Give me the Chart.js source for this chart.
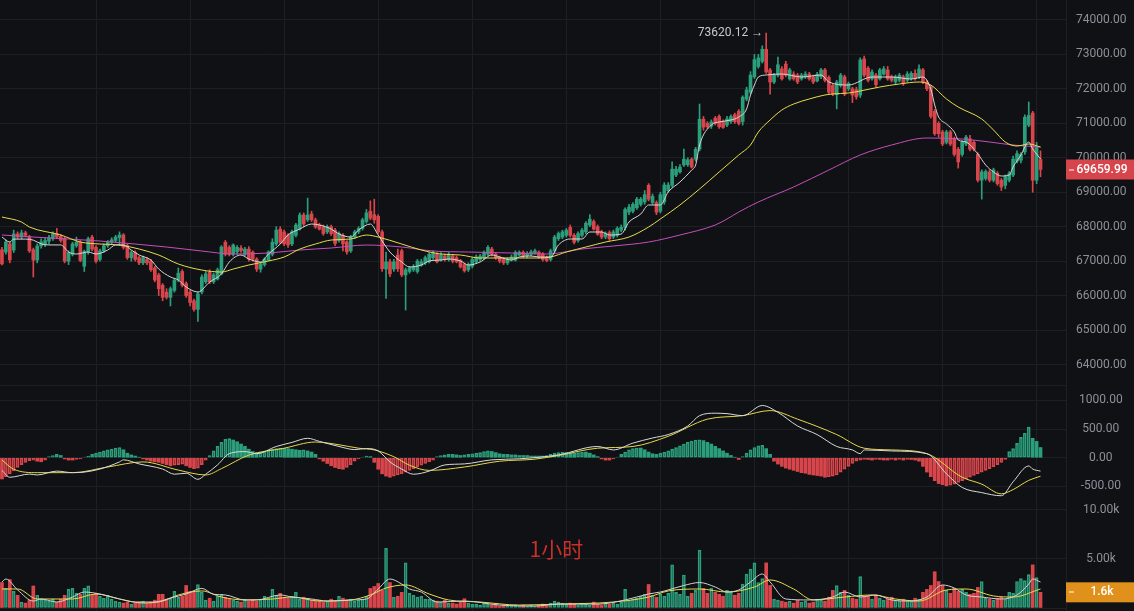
<!DOCTYPE html>
<html>
<head>
<meta charset="utf-8">
<script src="https://cdn.jsdelivr.net/npm/chart.js@4.4.1/dist/chart.umd.min.js"></script>
<style>
  html, body { margin: 0; padding: 0; background: #101114; }
  #wrap { position: relative; width: 1134px; height: 611px; overflow: hidden; background: #101114; }
  canvas { position: absolute; left: 0; }
</style>
</head>
<body>
<div id="wrap">
  <canvas id="priceChart" width="1134" height="385" style="top:0"></canvas>
  <canvas id="macdChart" width="1134" height="115" style="top:385px"></canvas>
  <canvas id="volChart" width="1134" height="111" style="top:500px"></canvas>
</div>
<script>
// hourly candles: [open, high, low, close]
const candles = [
  [67330,67400,66890,66920],[67265,67620,67200,67555],[67500,67560,66950,67035],[67320,67900,67250,67790],[67790,67850,67650,67700],
  [67700,67900,67650,67820],[67820,67870,67700,67750],[67700,67750,67250,67300],[67330,67380,66540,67030],[67030,67500,66950,67440],
  [67440,67650,67380,67560],[67480,67680,67420,67600],[67580,67750,67500,67680],[67650,67850,67600,67800],[67800,67950,67650,67700],
  [67720,67780,67550,67600],[67650,67700,66950,67000],[67000,67300,66900,67250],[67200,67550,67150,67500],[67450,67700,67400,67550],
  [67550,67600,66980,67020],[66850,67320,66700,67280],[67280,67700,67200,67650],[67700,67750,67300,67350],[67400,67450,66950,67000],
  [67050,67350,67000,67300],[67300,67500,67250,67450],[67450,67600,67400,67550],[67550,67680,67500,67620],[67600,67750,67550,67700],
  [67680,67850,67450,67760],[67760,67800,67350,67400],[67450,67500,67050,67100],[67100,67300,67000,67250],[67250,67300,67000,67050],
  [67100,67150,66900,66950],[66950,67150,66900,67100],[67050,67100,66900,66950],[67000,67050,66700,66750],[66800,66850,66400,66450],
  [66600,66650,66000,66200],[66300,66350,65850,65950],[66100,66200,65900,65950],[65950,66250,65700,66200],[66150,66500,66100,66450],
  [66450,66800,66400,66650],[66700,66750,66250,66300],[66350,66400,65950,66000],[66100,66150,65700,65800],[65850,65900,65550,65600],
  [65600,66100,65250,66050],[66104,66600,66050,66540],[66400,66700,66350,66630],[66680,66750,66350,66400],[66400,66650,66350,66600],
  [66480,66800,66450,66750],[66630,67450,66600,67410],[67550,67600,67150,67200],[67400,67450,67150,67200],[67200,67500,67150,67470],
  [67270,67450,67200,67400],[67380,67450,67250,67300],[67200,67400,67150,67350],[67350,67420,67000,67060],[67260,67300,67000,67060],
  [67060,67100,66700,66770],[66770,66950,66680,66920],[66900,67100,66850,67060],[67030,67300,67000,67270],[67200,67650,67150,67550],
  [67500,68000,67450,67900],[67930,68000,67500,67550],[67850,67900,67450,67500],[67760,67800,67400,67470],[67500,67900,67450,67850],
  [67750,68100,67700,68050],[67950,68400,67900,68340],[68340,68400,68000,68080],[68200,68830,68150,68340],[68370,68450,68150,68200],
  [68200,68250,67950,67990],[68050,68100,67900,67930],[68000,68050,67750,67800],[67850,68050,67800,68000],[68000,68050,67750,67800],
  [67900,67950,67450,67510],[67600,67850,67550,67800],[67750,67800,67300,67500],[67560,67600,67200,67270],[67300,67750,67250,67700],
  [67700,67900,67650,67850],[67850,68000,67800,67950],[67950,68250,67900,68200],[68150,68500,68100,68400],[68450,68750,68200,68250],
  [68350,68800,68100,68200],[68300,68350,67800,67850],[67850,67900,66700,66780],[66770,67260,65920,66980],[66980,67050,66550,66630],
  [66770,67050,66700,66980],[67180,67350,66700,66780],[67300,67350,66550,66600],[66600,66800,65580,66750],[66700,66850,66650,66800],
  [66750,66900,66700,66850],[66700,67050,66650,67000],[66880,67050,66850,66980],[66950,67150,66900,67100],[66980,67250,66950,67200],
  [67100,67300,67050,67250],[67200,67250,66950,66980],[67030,67250,67000,67180],[67150,67200,67000,67050],[67050,67250,67000,67200],
  [67150,67200,66950,67000],[67100,67150,66950,66980],[67020,67050,66800,66830],[66900,66950,66680,66720],[66750,66950,66700,66900],
  [66850,67100,66800,67050],[66980,67180,66950,67120],[67050,67200,67000,67150],[67100,67300,67050,67250],[67200,67450,67150,67400],
  [67350,67400,67150,67200],[67200,67250,67050,67100],[67100,67150,66950,67000],[67050,67100,66900,66950],[66950,67100,66900,67060],
  [67050,67180,67000,67120],[67030,67300,67000,67250],[67180,67300,67150,67260],[67260,67300,67100,67150],[67150,67280,67100,67230],
  [67200,67320,67150,67270],[67230,67350,67200,67300],[67260,67300,67080,67120],[67200,67250,67000,67050],[67100,67150,66980,67020],
  [67050,67350,67000,67300],[67300,67750,67250,67700],[67650,67850,67600,67800],[67700,67900,67650,67850],[67750,67950,67700,67900],
  [67980,68050,67700,67750],[67750,67800,67500,67550],[67600,67850,67550,67800],[67750,67950,67700,67900],[67850,68150,67800,68100],
  [68050,68350,68000,68220],[68150,68200,67900,67930],[68000,68050,67750,67780],[67850,67900,67650,67700],[67700,67850,67650,67800],
  [67830,67880,67600,67650],[67700,67900,67650,67850],[67750,68000,67700,67950],[67900,68050,67850,67980],[67980,68550,67900,68500],
  [68420,68650,68350,68570],[68450,68700,68400,68650],[68550,68850,68500,68800],[68650,68850,68600,68800],[68720,69050,68650,68930],
  [69200,69250,68750,68800],[68700,68950,68650,68880],[68700,68750,68350,68420],[68450,69000,68400,68930],[68720,69280,68650,69210],
  [69050,69280,69000,69210],[69200,69880,69150,69670],[69500,69750,69450,69670],[69590,69800,69550,69730],[69790,70250,69750,69960],
  [69800,70000,69750,69940],[69960,70000,69700,69730],[69960,70300,69900,70250],[70250,71560,70200,71120],[71120,71200,70800,70890],
  [71000,71050,70850,70900],[70920,71100,70850,71040],[71150,71200,70950,71000],[71200,71250,70850,70900],[71050,71100,70850,70880],
  [70950,71200,70900,71130],[71050,71250,71000,71200],[71250,71300,71000,71050],[71350,71400,70950,71000],[71050,71800,70950,71760],
  [71700,72050,71650,71970],[71900,72500,71850,72400],[72350,73000,72300,72850],[72650,73000,72600,72900],[72800,73250,72750,73150],
  [73150,73620.12,72450,72490],[72550,72600,71850,72200],[72200,72450,72150,72400],[72400,72920,72350,72700],[72580,72650,72250,72290],
  [72720,72800,72350,72400],[72290,72600,72250,72550],[72430,72500,72250,72290],[72400,72450,72150,72200],[72290,72450,72250,72400],
  [72350,72500,72300,72430],[72430,72480,72250,72290],[72350,72400,72150,72200],[72230,72480,72200,72420],[72350,72600,72300,72550],
  [72550,72600,72200,72250],[72330,72380,71850,71900],[72100,72150,71800,71850],[71830,72250,71420,72200],[72100,72450,72050,72400],
  [72350,72400,71800,71850],[72000,72200,71950,72150],[72000,72050,71600,71820],[71980,72050,71700,71770],[71820,72900,71750,72840],
  [72870,72950,72350,72400],[72600,72650,72200,72250],[72290,72550,72250,72490],[72400,72450,72050,72120],[72290,72600,72250,72550],
  [72430,72650,72400,72580],[72550,72650,72250,72290],[72350,72400,72200,72250],[72200,72400,72150,72350],[72250,72450,72200,72400],
  [72350,72400,72100,72150],[72250,72500,72200,72430],[72300,72500,72250,72450],[72450,72550,72250,72300],[72350,72700,72300,72580],
  [72550,72600,72150,72200],[72200,72250,71950,72000],[72050,72100,71150,71200],[71350,71400,70650,70700],[71000,71050,70600,70700],
  [70750,70800,70350,70400],[70450,70800,70400,70750],[70750,70800,70350,70400],[70550,70600,70050,70100],[70250,70300,69700,69880],
  [70100,70500,70050,70450],[70400,70650,70350,70600],[70550,70650,70200,70250],[70450,70500,70200,70250],[70100,70150,69300,69350],
  [69350,69650,68800,69590],[69400,69650,69350,69600],[69590,69650,69300,69350],[69350,69700,69300,69650],[69550,69600,69200,69250],
  [69350,69400,69050,69150],[69200,69500,69100,69450],[69350,69600,69300,69540],[69500,70050,69450,69960],[69900,70200,69850,70120],
  [69930,70150,69850,70100],[70170,71250,70100,71180],[70950,71620,70900,71230],[71300,71350,69000,69350],[69350,70450,69250,70300],
  [69950,70200,69450,69659.99]
];

// price moving averages, read at sample candles: [index, value]
const ma7Pts = [[0,67700],[2,67555],[3,67640],[6,67640],[8,67610],[10,67500],[12,67470],[15,67470],[17,67265],[19,67207],[22,67265],[24,67207],[27,67323],[29,67470],[31,67470],[33,67323],[35,67178],[38,67033],[40,66770],[43,66540],[45,66452],[47,66250],[50,66104],[53,66394],[56,66627],[58,66975],[61,67178],[63,67062],[66,66975],[68,67207],[71,67497],[73,67759],[76,67933],[79,68078],[81,68049],[84,67933],[86,67788],[89,67700],[91,67904],[94,68078],[96,67759],[99,67265],[102,66975],[104,66830],[107,66888],[109,67004],[112,67033],[114,67062],[117,67004],[119,66888],[122,66975],[125,67178],[127,67120],[130,67033],[132,67120],[135,67149],[137,67120],[140,67120],[142,67470],[145,67643],[148,67643],[150,67846],[153,67846],[155,67758],[158,67787],[160,68136],[163,68368],[165,68630],[168,68630],[170,69007],[173,69297],[176,69645],[177,69790],[178,70371],[181,70952],[183,71039],[186,71097],[188,71184],[190,71416],[191,71823],[192,72113],[193,72345],[195,72403],[199,72432],[204,72345],[209,72403],[211,72200],[216,72113],[222,72345],[227,72345],[232,72287],[235,72345],[237,71997],[238,71532],[239,71184],[241,70981],[243,70749],[244,70516],[246,70458],[249,70110],[251,69791],[253,69588],[255,69471],[257,69500],[258,69733],[260,70081],[262,70458],[263,70255],[264,70110],[265,69965]];
const ma25Pts = [[0,68281],[5,68136],[7,67991],[15,67759],[20,67555],[25,67497],[30,67468],[35,67352],[40,67178],[45,66917],[51,66742],[56,66684],[59,66771],[63,66888],[68,67004],[72,67120],[76,67352],[80,67497],[84,67613],[89,67642],[93,67758],[96,67700],[102,67497],[107,67323],[112,67207],[117,67178],[122,67091],[127,67091],[132,67091],[137,67091],[140,67120],[144,67265],[149,67410],[154,67555],[160,67700],[165,67991],[168,68223],[173,68630],[178,69094],[183,69588],[188,70081],[191,70371],[193,70749],[196,71097],[199,71387],[202,71561],[206,71707],[210,71823],[212,71852],[216,71881],[219,71939],[224,72055],[229,72142],[234,72200],[237,72113],[241,71707],[244,71474],[250,71126],[253,70807],[256,70458],[259,70342],[262,70400],[265,70313]];
const ma99Pts = [[0,67759],[8,67700],[17,67642],[25,67584],[34,67497],[42,67410],[51,67294],[59,67207],[68,67236],[76,67323],[84,67381],[93,67468],[102,67410],[110,67294],[119,67265],[130,67236],[139,67207],[148,67352],[156,67439],[165,67555],[173,67759],[182,68049],[185,68223],[188,68426],[193,68717],[202,69152],[211,69645],[219,70081],[227,70371],[236,70574],[245,70545],[252,70458],[258,70371],[265,70313]];

// MACD
const macdHist = [
  -370,-330,-280,-230,-170,-120,-80,-50,-40,-60,
  -70,-40,20,40,60,40,-20,-40,-40,-30,
  -20,10,30,60,80,100,120,140,150,170,
  180,140,80,50,30,10,-20,-40,-60,-70,
  -80,-100,-120,-140,-130,-120,-110,-140,-170,-190,
  -180,-120,-40,40,120,200,270,320,335,310,
  280,240,200,150,110,90,100,110,130,150,
  160,170,165,160,150,140,130,140,120,100,
  60,-20,-60,-100,-140,-170,-190,-200,-170,-120,
  -60,-20,10,30,20,-80,-200,-280,-320,-340,
  -320,-300,-280,-250,-220,-190,-160,-130,-100,-70,
  -40,20,40,50,60,60,50,40,50,60,
  70,80,90,110,120,110,90,70,60,60,
  50,50,40,40,40,30,30,30,30,40,
  60,80,90,100,90,80,80,90,100,100,
  80,50,20,-20,-40,-40,-20,10,60,100,
  140,160,170,170,140,100,70,60,80,100,
  120,150,180,210,240,270,290,310,315,300,
  270,240,200,160,120,80,40,10,-30,20,
  80,140,180,210,215,160,60,-60,-110,-150,
  -180,-200,-220,-240,-260,-270,-290,-300,-310,-320,
  -340,-330,-320,-300,-250,-200,-150,-100,-60,-40,
  -30,-30,-40,-30,-30,-40,-40,-30,-40,-30,
  -40,-30,-30,-40,-60,-150,-250,-330,-400,-450,
  -470,-490,-480,-460,-430,-400,-370,-340,-310,-280,
  -250,-220,-190,-160,-120,-80,-30,107,160,250,
  357,428,536,340,286,179
];
const difPts = [[0,-220],[2,-340],[7,-285],[9,-300],[14,-233],[18,-260],[21,-250],[25,-197],[30,-72],[31,-36],[35,-107],[41,-197],[44,-287],[47,-270],[50,-376],[52,-287],[55,-125],[58,72],[62,107],[65,72],[70,197],[74,268],[78,340],[81,286],[86,197],[90,143],[93,161],[96,120],[99,-72],[102,-197],[105,-287],[109,-233],[113,-125],[118,-107],[125,-36],[132,-18],[142,50],[152,197],[156,137],[161,256],[166,345],[170,405],[175,555],[178,735],[182,778],[185,770],[189,735],[194,912],[198,793],[203,555],[208,405],[213,197],[217,137],[219,72],[220,137],[227,119],[236,72],[241,-280],[245,-518],[250,-608],[255,-663],[258,-420],[262,-143],[263,-197],[265,-233]];
const deaPts = [[0,-40],[3,-200],[9,-260],[18,-260],[27,-161],[36,-72],[45,-215],[52,-300],[56,-190],[63,47],[72,167],[80,275],[86,227],[91,167],[95,137],[100,18],[104,-130],[109,-220],[118,-161],[127,-60],[136,-24],[142,40],[152,167],[161,197],[170,375],[180,674],[189,735],[196,824],[203,674],[213,405],[220,167],[227,137],[236,72],[245,-340],[250,-460],[255,-630],[258,-555],[262,-394],[265,-322]];

// volume
const volumes = [
  2600,2000,2900,1700,1300,600,500,800,2250,1300,
  900,800,700,900,600,900,1300,1900,2000,1500,
  1400,2000,2250,1300,1500,1200,1000,1300,900,700,
  600,500,600,400,500,600,700,500,600,800,
  1400,1400,900,1000,1700,1100,1200,2300,1700,1600,
  2400,1600,800,1000,700,1200,1400,1100,900,800,
  700,600,900,700,800,700,900,1200,1000,1900,
  1300,1500,1100,1000,1200,1600,900,1100,1000,800,
  700,800,600,700,900,700,1200,1000,800,900,
  700,800,900,1200,2000,2200,2500,1800,6100,2600,
  1100,1200,1600,4600,1500,1300,1100,1200,900,900,
  800,700,600,800,500,500,400,600,950,500,
  400,400,300,500,400,300,300,200,300,300,
  200,300,200,300,200,300,200,300,400,300,
  500,700,600,500,400,500,400,300,500,400,
  300,600,400,300,500,400,500,400,600,1900,
  800,900,1000,1200,1400,2400,1300,1100,1400,1200,
  1500,4400,1600,1400,3370,1200,1500,1800,5900,2000,
  1500,2000,1600,1400,1200,1800,1600,1300,1500,2450,
  3470,3980,4600,2600,3000,4600,2300,900,800,700,
  600,700,500,800,600,700,500,600,900,800,
  700,1100,1800,2300,1600,1800,1300,1000,900,3200,
  1200,1200,900,1300,1000,800,900,1100,800,700,
  900,800,700,1000,900,1600,1900,2300,3700,2700,
  2300,1800,1500,2000,1700,1900,1600,1400,1500,2100,
  2700,1000,900,800,1000,1100,900,1600,1500,2700,
  3000,2800,3400,4400,3100,1600
];
const volMa5Pts = [[0,2650],[1,2960],[4,1840],[8,710],[10,920],[14,610],[18,1120],[21,1630],[25,1430],[30,920],[34,610],[39,610],[43,1020],[47,1430],[51,2000],[54,1400],[57,1330],[62,820],[65,820],[71,1330],[74,1120],[79,920],[83,710],[89,820],[93,920],[96,1940],[99,2960],[102,2450],[104,1940],[107,1630],[111,610],[118,710],[127,300],[136,200],[142,400],[152,400],[159,820],[165,1430],[168,1630],[170,1840],[174,2300],[178,2600],[182,2140],[185,1630],[188,1840],[191,2650],[194,3470],[196,2650],[200,920],[206,820],[212,1120],[215,1630],[219,1120],[223,1330],[227,820],[232,710],[236,1120],[240,2350],[243,2040],[246,1330],[250,1120],[255,920],[259,1330],[262,2450],[263,2960],[265,2650]];
const volMa10Pts = [[0,1940],[4,1940],[9,920],[18,920],[24,1430],[30,920],[36,510],[41,710],[45,1330],[51,1740],[56,1120],[62,820],[69,920],[74,1120],[81,710],[89,820],[94,1330],[98,2040],[103,2350],[109,1430],[114,820],[122,610],[132,300],[142,400],[156,610],[165,1120],[170,1740],[178,1940],[185,1630],[192,2140],[196,2860],[202,1940],[207,820],[215,1120],[222,1330],[228,920],[234,710],[241,1840],[246,1940],[253,1230],[258,1120],[265,1940]];

// axis ticks
const priceTicks = [64000,65000,66000,67000,68000,69000,70000,71000,72000,73000,74000];
const macdTicks = [-500,0,500,1000];
const volTicks = [0,5000,10000];

const SLOTS = 272; // candle slots incl. empty room on the right
const slotLabels = [];
for (let i = 0; i < SLOTS; i++) slotLabels.push(i < candles.length ? 'h' + i : '');

const UP = '#2b9f7b';
const DOWN = '#d8464c';
const GRID = '#1d1f25';
const TEXT = '#8b9099';
const NONE = 'rgba(0,0,0,0)';

Chart.defaults.font.family = 'Roboto';
Chart.defaults.color = TEXT;

function spread(pts) {
  const arr = new Array(candles.length).fill(null);
  pts.forEach(p => { arr[p[0]] = p[1]; });
  return arr;
}

function lineSet(pts, color) {
  return { type: 'line', data: spread(pts), borderColor: color, borderWidth: 1, pointRadius: 0,
           spanGaps: true, cubicInterpolationMode: 'monotone', order: 0 };
}

function xAxis() {
  return {
    type: 'category', offset: true,
    grid: { offset: false, drawTicks: false, color: c => (c.index > 0 && c.index % 24 === 0) ? GRID : NONE },
    ticks: { display: false },
    border: { display: false }
  };
}

function yAxis(min, max, tickVals, pad, fmt) {
  return {
    position: 'right', min, max,
    grid: { color: GRID, drawTicks: false },
    border: { display: true, color: GRID },
    ticks: { padding: pad, crossAlign: 'center', font: { size: 12 }, color: TEXT, callback: fmt },
    afterBuildTicks(s) { s.ticks = tickVals.map(v => ({ value: v })); },
    afterFit(s) { s.width = 68; s.paddingTop = 0; s.paddingBottom = 0; }
  };
}

const baseOpts = {
  responsive: false, animation: false, devicePixelRatio: 1, events: [],
  layout: { padding: 0 },
  plugins: { legend: { display: false }, tooltip: { enabled: false } }
};

const candleColor = candles.map(c => c[3] >= c[0] ? UP : DOWN);

function tag(ctx, chart, y, text, bg) {
  const left = chart.chartArea.right;
  ctx.fillStyle = bg;
  ctx.fillRect(left, y - 10, chart.width - left, 20);
  ctx.fillStyle = '#ffffff';
  ctx.fillRect(left + 3, Math.round(y) - 0.5, 5, 1);
  ctx.font = '500 12px Roboto';
  ctx.textAlign = 'center';
  ctx.textBaseline = 'middle';
  ctx.fillText(text, (left + chart.width) / 2 + 2, y);
}

// ---- price pane
new Chart(document.getElementById('priceChart'), {
  type: 'bar',
  data: {
    labels: slotLabels,
    datasets: [
      lineSet(ma7Pts, '#d6d6d6'),
      lineSet(ma25Pts, '#e7dc4c'),
      lineSet(ma99Pts, '#c54fbd'),
      { type: 'bar', data: candles.map(c => [c[0], c[3]]), backgroundColor: candleColor,
        barThickness: 3, minBarLength: 1, grouped: false, order: 1 },
      { type: 'bar', data: candles.map(c => [c[2], c[1]]), backgroundColor: candleColor,
        barThickness: 1, grouped: false, order: 2 }
    ]
  },
  options: Object.assign({}, baseOpts, {
    scales: { x: xAxis(), y: yAxis(63405, 74580, priceTicks, 10, v => Number(v).toFixed(2)) }
  }),
  plugins: [{
    id: 'priceMarks',
    afterDraw(chart) {
      const { ctx, scales: { x, y } } = chart;
      let hi = 0;
      candles.forEach((c, i) => { if (c[1] > candles[hi][1]) hi = i; });
      ctx.save();
      ctx.font = '12px Roboto';
      ctx.fillStyle = '#c6c9cf';
      ctx.textAlign = 'right';
      ctx.textBaseline = 'middle';
      ctx.fillText(candles[hi][1].toFixed(2) + ' \u2192', x.getPixelForValue(hi) - 3, y.getPixelForValue(candles[hi][1]));
      const last = candles[candles.length - 1][3];
      tag(ctx, chart, y.getPixelForValue(last), last.toFixed(2), '#d6454b');
      ctx.restore();
    }
  }]
});

// ---- MACD pane
const histRising = macdHist.map((v, i) => i > 0 && v > macdHist[i - 1]);
const histColor = macdHist.map(v => v >= 0 ? UP : DOWN);
new Chart(document.getElementById('macdChart'), {
  type: 'bar',
  data: {
    labels: slotLabels,
    datasets: [
      lineSet(difPts, '#d9d9d9'),
      lineSet(deaPts, '#e7d74a'),
      { type: 'bar', data: macdHist, order: 1, grouped: false, barThickness: 3, borderSkipped: false,
        backgroundColor: histColor.map((c, i) => histRising[i] ? NONE : c),
        borderColor: histColor, borderWidth: histRising.map(r => r ? 1 : 0) }
    ]
  },
  options: Object.assign({}, baseOpts, {
    scales: { x: xAxis(), y: yAxis(-737, 1270, macdTicks, 13, v => Number(v).toFixed(2)) }
  }),
  plugins: [{
    id: 'sep',
    beforeDraw(chart) {
      const { ctx, chartArea } = chart;
      ctx.save();
      ctx.fillStyle = GRID;
      ctx.fillRect(chartArea.left, 0, chartArea.right - chartArea.left, 1);
      ctx.restore();
    }
  }]
});

// ---- volume pane
new Chart(document.getElementById('volChart'), {
  type: 'bar',
  data: {
    labels: slotLabels,
    datasets: [
      lineSet(volMa5Pts, '#d2d2d2'),
      lineSet(volMa10Pts, '#e7dc4c'),
      { type: 'bar', data: volumes, order: 1, grouped: false, barThickness: 3, borderSkipped: false,
        backgroundColor: candleColor.map(c => c === UP ? NONE : c),
        borderColor: candleColor, borderWidth: candleColor.map(c => c === UP ? 1 : 0) }
    ]
  },
  options: Object.assign({}, baseOpts, {
    scales: { x: xAxis(), y: yAxis(-306, 11020, volTicks, 17, v => v === 0 ? '' : (v / 1000).toFixed(2) + 'k') }
  }),
  plugins: [{
    id: 'volMarks',
    beforeDatasetsDraw(chart) {
      const { ctx, chartArea } = chart;
      ctx.save();
      ctx.font = '21px "Noto Sans CJK SC"';
      ctx.fillStyle = '#c9302c';
      ctx.textAlign = 'center';
      ctx.textBaseline = 'middle';
      ctx.fillText('1小时', chartArea.left + chartArea.width * 0.522, chartArea.top + chartArea.height * 0.44);
      ctx.restore();
    },
    afterDraw(chart) {
      const { ctx, scales: { y } } = chart;
      const last = volumes[volumes.length - 1];
      ctx.save();
      tag(ctx, chart, y.getPixelForValue(last), (last / 1000).toFixed(1) + 'k', '#e0911c');
      ctx.restore();
    }
  }]
});
</script>
</body>
</html>
